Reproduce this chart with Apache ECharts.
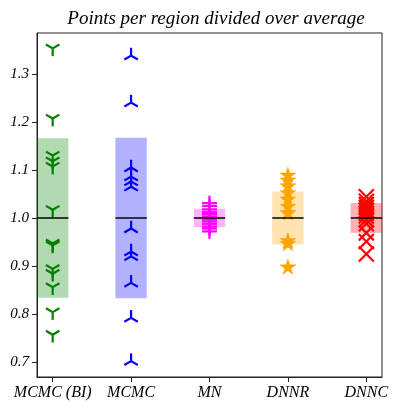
<!DOCTYPE html>
<html>
<head>
<meta charset="utf-8">
<script src="https://cdn.jsdelivr.net/npm/echarts@6/dist/echarts.min.js"></script>
<style>
  html, body { margin: 0; padding: 0; background: #fff; }
  #chart { width: 395px; height: 404px; }
</style>
</head>
<body>
<div id="chart"></div>
<script>
// Methods compared, in axis order
const categories = ['MCMC (BI)', 'MCMC', 'MN', 'DNNR', 'DNNC'];

// Points per region, each divided by the method's average
const mcmcBI = [1.353, 1.207, 1.130, 1.118, 1.107, 1.017, 0.947, 0.943, 0.894, 0.884, 0.856, 0.804, 0.757];
const mcmc   = [1.338, 1.240, 1.105, 1.086, 1.076, 1.065, 0.978, 0.930, 0.920, 0.865, 0.792, 0.702];
const mn     = [1.031, 1.025, 1.018, 1.012, 1.008, 1.003, 0.998, 0.993, 0.988, 0.982, 0.978, 0.972];
const dnnr   = [1.088, 1.078, 1.066, 1.052, 1.038, 1.023, 1.010, 0.952, 0.946, 0.897];
const dnnc   = [1.044, 1.035, 1.028, 1.022, 1.016, 1.010, 1.004, 0.996, 0.988, 0.969, 0.951, 0.925];

// Average line and one-standard-deviation band per method
const averages = [1.0, 1.0, 1.0, 1.0, 1.0];
const spreads  = [0.166, 0.167, 0.019, 0.055, 0.031];

// Axis ticks
const yTicks = [0.7, 0.8, 0.9, 1.0, 1.1, 1.2, 1.3];
const xTicks = [0, 1, 2, 3, 4];

const pointSets = [mcmcBI, mcmc, mn, dnnr, dnnc];
const colors = ['#008000', '#0000ff', '#ff00ff', '#ffa500', '#ff0000'];
const bandColors = ['rgba(0,128,0,0.3)', 'rgba(0,0,255,0.3)', 'rgba(255,0,255,0.3)',
                    'rgba(255,165,0,0.3)', 'rgba(255,0,0,0.3)'];
const markerKinds = ['triDown', 'triUp', 'plus', 'star', 'cross'];
const HALF_W = 0.2;
const FONT = '"Liberation Serif", "DejaVu Serif", serif';

const chart = echarts.init(document.getElementById('chart'), null, { renderer: 'canvas' });

function markerShape(kind, p, color) {
  const lw = 2.2;
  const line = (x1, y1, x2, y2, w) => ({
    type: 'line',
    shape: { x1, y1, x2, y2 },
    style: { stroke: color, lineWidth: w || lw, lineCap: 'butt' }
  });
  const r = 7.8;
  if (kind === 'triDown') {
    const ax = r * 0.866, ay = r * 0.5;
    return { type: 'group', children: [
      line(p[0], p[1], p[0] - ax, p[1] - ay),
      line(p[0], p[1], p[0] + ax, p[1] - ay),
      line(p[0], p[1], p[0], p[1] + r)
    ] };
  }
  if (kind === 'triUp') {
    const ax = r * 0.866, ay = r * 0.5;
    return { type: 'group', children: [
      line(p[0], p[1], p[0] - ax, p[1] + ay),
      line(p[0], p[1], p[0] + ax, p[1] + ay),
      line(p[0], p[1], p[0], p[1] - r)
    ] };
  }
  if (kind === 'plus') {
    return { type: 'group', children: [
      line(p[0] - 7.5, p[1], p[0] + 7.5, p[1], 2.2),
      line(p[0], p[1] - 7.5, p[0], p[1] + 7.5, 2.2)
    ] };
  }
  if (kind === 'cross') {
    const d = 7.5;
    return { type: 'group', children: [
      line(p[0] - d, p[1] - d, p[0] + d, p[1] + d, 2.2),
      line(p[0] - d, p[1] + d, p[0] + d, p[1] - d, 2.2)
    ] };
  }
  // five-pointed star
  const outer = 8.4, inner = outer * 0.382;
  const pts = [];
  for (let i = 0; i < 10; i++) {
    const rad = i % 2 === 0 ? outer : inner;
    const a = -Math.PI / 2 + i * Math.PI / 5;
    pts.push([p[0] + rad * Math.cos(a), p[1] + rad * Math.sin(a)]);
  }
  return { type: 'polygon', shape: { points: pts }, style: { fill: color, stroke: color, lineWidth: 0.5 } };
}

const series = [];

// Standard-deviation bands
series.push({
  type: 'custom',
  z: 1,
  data: categories.map((c, i) => [i, averages[i], spreads[i]]),
  renderItem: (params, api) => {
    const i = api.value(0), m = api.value(1), s = api.value(2);
    const tl = api.coord([i - HALF_W, m + s]);
    const br = api.coord([i + HALF_W, m - s]);
    return {
      type: 'rect',
      shape: { x: tl[0], y: tl[1], width: br[0] - tl[0], height: br[1] - tl[1] },
      style: { fill: bandColors[params.dataIndex] }
    };
  }
});

// Individual points
pointSets.forEach((vals, i) => {
  series.push({
    type: 'custom',
    z: 2,
    data: vals.map(v => [i, v]),
    renderItem: (params, api) => {
      const p = api.coord([api.value(0), api.value(1)]);
      return markerShape(markerKinds[i], p, colors[i]);
    }
  });
});

// Average lines
series.push({
  type: 'custom',
  z: 3,
  data: categories.map((c, i) => [i, averages[i]]),
  renderItem: (params, api) => {
    const i = api.value(0), m = api.value(1);
    const a = api.coord([i - HALF_W, m]);
    const b = api.coord([i + HALF_W, m]);
    return {
      type: 'line',
      shape: { x1: a[0], y1: a[1], x2: b[0], y2: b[1] },
      style: { stroke: 'rgba(0,0,0,0.75)', lineWidth: 2 }
    };
  }
});

chart.setOption({
  animation: false,
  backgroundColor: '#ffffff',
  title: {
    text: 'Points per region divided over average',
    left: 211,
    top: 4,
    textAlign: 'center',
    textStyle: { fontFamily: FONT, fontStyle: 'italic', fontWeight: 'normal', fontSize: 19, color: '#000' }
  },
  grid: {
    left: 37, right: 13, top: 33, bottom: 27,
    show: true, borderColor: '#222', borderWidth: 1, backgroundColor: 'transparent'
  },
  xAxis: {
    type: 'value',
    min: -0.2,
    max: 4.2,
    splitLine: { show: false },
    axisLine: { show: true, onZero: false, lineStyle: { color: '#222', width: 1 } },
    axisTick: { show: true, length: 5, inside: false, customValues: xTicks, lineStyle: { color: '#222' } },
    axisLabel: {
      customValues: xTicks,
      margin: 8,
      formatter: v => categories[Math.round(v)] || '',
      fontFamily: FONT, fontStyle: 'italic', fontSize: 16, color: '#000'
    }
  },
  yAxis: {
    type: 'value',
    min: 0.669,
    max: 1.385,
    splitLine: { show: false },
    axisLine: { show: true, onZero: false, lineStyle: { color: '#222', width: 1 } },
    axisTick: { show: true, length: 5, inside: false, customValues: yTicks, lineStyle: { color: '#222' } },
    axisLabel: {
      customValues: yTicks,
      margin: 8,
      formatter: v => v.toFixed(1),
      fontFamily: FONT, fontStyle: 'italic', fontSize: 15, color: '#000'
    }
  },
  series: series
});
</script>
</body>
</html>
